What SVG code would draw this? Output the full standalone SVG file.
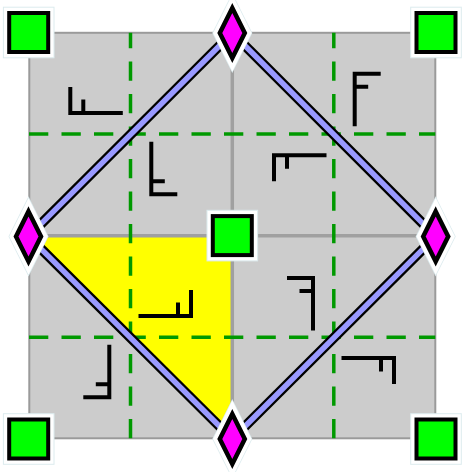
<svg xmlns="http://www.w3.org/2000/svg" width="464" height="472" viewBox="0 0 464 472">
<style>
.bg{fill:#cccccc;stroke:#9a9a9a;stroke-width:2}
.mid{stroke:#a0a0a0;stroke-width:3.5;fill:none}
.dash{stroke:#009900;stroke-width:3.5;stroke-dasharray:19.3 13.2;fill:none}
.f{fill:none;stroke:#000;stroke-width:4;stroke-linejoin:miter;stroke-linecap:butt}
.eo{stroke:#000;stroke-width:10;fill:none}
.ei{stroke:#9999ff;stroke-width:5.5;fill:none}
.halo{fill:#fff;stroke:#dcebee;stroke-width:1}
.dhalo{fill:#fff;stroke:#fff;stroke-width:12;stroke-linejoin:miter;stroke-miterlimit:10}
.dhalo2{fill:none;stroke:#dcebee;stroke-width:13.5;stroke-linejoin:miter;stroke-miterlimit:10}
.sq{fill:#00ff00;stroke:#000;stroke-width:4}
.dm{fill:#ff00ff;stroke:#000;stroke-width:4.5;stroke-linejoin:miter;stroke-miterlimit:10}
</style>
<defs>
<path id="F" d="M26,0 L0,0 L0,52.5 M0,13 L13.5,13"/>
<polygon id="dia" points="0,-25 12.5,0 0,25 -12.5,0"/>
</defs>
<g id="grid">
<rect class="bg" x="29.3" y="32.8" width="406" height="405.5"/>
<polygon points="29.3,235.7 232.3,235.7 232.3,438.3" fill="#ffff00"/>
<line class="mid" x1="232.3" y1="32.8" x2="232.3" y2="438.3"/>
<line class="mid" x1="29.3" y1="235.7" x2="435.3" y2="235.7"/>
<line class="dash" x1="29" y1="134" x2="435.3" y2="134"/>
<line class="dash" x1="29" y1="337.2" x2="435.3" y2="337.2"/>
<line class="dash" x1="130.5" y1="32.8" x2="130.5" y2="438.3" stroke-dashoffset="3.8"/>
<line class="dash" x1="333.8" y1="32.8" x2="333.8" y2="438.3" stroke-dashoffset="3.8"/>
</g>
<g id="figures">
<use href="#F" class="f" transform="matrix(0,-1,1,0,70.3,113)"/>
<use href="#F" class="f" transform="matrix(1,0,0,-1,151.3,194.3)"/>
<use href="#F" class="f" transform="matrix(0,1,1,0,274,155.3)"/>
<use href="#F" class="f" transform="matrix(1,0,0,1,354.7,73.8)"/>
<use href="#F" class="f" transform="matrix(-1,0,0,1,313,278)"/>
<use href="#F" class="f" transform="matrix(0,1,-1,0,394,358)"/>
<use href="#F" class="f" transform="matrix(0,-1,-1,0,191,316)"/>
<use href="#F" class="f" transform="matrix(-1,0,0,-1,109.3,397.3)"/>
</g>
<g id="connectors">
<line class="eo" x1="232.3" y1="33" x2="28.5" y2="236.4"/>
<line class="eo" x1="232.3" y1="33" x2="435.7" y2="236.4"/>
<line class="eo" x1="28.5" y1="236.4" x2="232.3" y2="439"/>
<line class="eo" x1="435.7" y1="236.4" x2="232.3" y2="439"/>
<line class="ei" x1="232.3" y1="33" x2="28.5" y2="236.4"/>
<line class="ei" x1="232.3" y1="33" x2="435.7" y2="236.4"/>
<line class="ei" x1="28.5" y1="236.4" x2="232.3" y2="439"/>
<line class="ei" x1="435.7" y1="236.4" x2="232.3" y2="439"/>
</g>
<g id="sq_tl" transform="translate(28.7,32.5)"><rect class="halo" x="-25.3" y="-25.3" width="50.6" height="50.6"/><rect class="sq" x="-19.5" y="-19.5" width="39" height="39"/></g>
<g id="sq_tr" transform="translate(436,32.5)"><rect class="halo" x="-25.3" y="-25.3" width="50.6" height="50.6"/><rect class="sq" x="-19.5" y="-19.5" width="39" height="39"/></g>
<g id="sq_c" transform="translate(232.3,235.6)"><rect class="halo" x="-25.3" y="-25.3" width="50.6" height="50.6"/><rect class="sq" x="-19.5" y="-19.5" width="39" height="39"/></g>
<g id="sq_bl" transform="translate(28.7,439)"><rect class="halo" x="-25.3" y="-25.3" width="50.6" height="50.6"/><rect class="sq" x="-19.5" y="-19.5" width="39" height="39"/></g>
<g id="sq_br" transform="translate(436,439)"><rect class="halo" x="-25.3" y="-25.3" width="50.6" height="50.6"/><rect class="sq" x="-19.5" y="-19.5" width="39" height="39"/></g>
<g id="dm_top" transform="translate(232.3,33)"><use href="#dia" class="dhalo2"/><use href="#dia" class="dhalo"/><use href="#dia" class="dm"/></g>
<g id="dm_left" transform="translate(28.5,236.4)"><use href="#dia" class="dhalo2"/><use href="#dia" class="dhalo"/><use href="#dia" class="dm"/></g>
<g id="dm_right" transform="translate(435.7,236.4)"><use href="#dia" class="dhalo2"/><use href="#dia" class="dhalo"/><use href="#dia" class="dm"/></g>
<g id="dm_bottom" transform="translate(232.3,439)"><use href="#dia" class="dhalo2"/><use href="#dia" class="dhalo"/><use href="#dia" class="dm"/></g>
</svg>
